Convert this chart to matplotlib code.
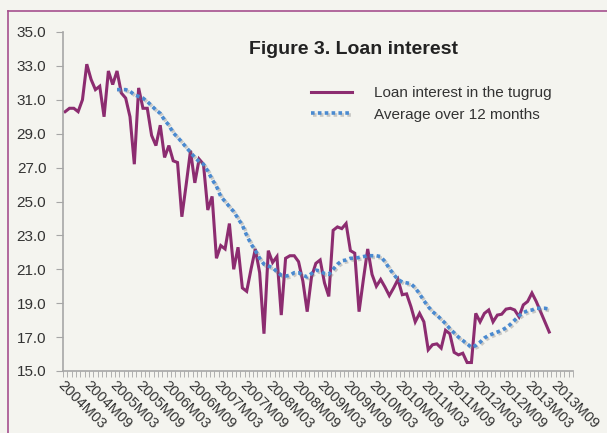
import numpy as np
import matplotlib.pyplot as plt
import matplotlib.patheffects as pe
import matplotlib.transforms as mtransforms

# monthly loan rate in tugrug, from 2004M03
loan_rate = [30.3, 30.5, 30.5, 30.3, 31.0, 33.1, 32.2, 31.6, 31.8, 30.0,
             32.7, 31.9, 32.7, 31.4, 31.1, 30.0, 27.2, 31.7, 30.5, 30.5,
             28.9, 28.3, 29.5, 27.6, 28.3, 27.4, 27.3, 24.1, 26.0, 28.0,
             26.1, 27.5, 27.2, 24.5, 25.3, 21.65, 22.4, 22.2, 23.7, 21.0,
             22.3, 19.9, 19.7, 21.0, 22.2, 20.8, 17.2, 22.1, 21.4, 21.75,
             18.3, 21.65, 21.8, 21.8, 21.45, 20.3, 18.5, 20.55, 21.35, 21.55,
             20.2, 19.4, 23.3, 23.5, 23.4, 23.7, 22.1, 21.95, 18.5, 20.4,
             22.2, 20.7, 20.0, 20.4, 19.95, 19.45, 19.9, 20.4, 19.5, 19.55,
             18.8, 17.9, 18.4, 17.9, 16.25, 16.55, 16.6, 16.35, 17.4, 17.2,
             16.1, 15.95, 16.05, 15.5, 15.5, 18.4, 17.9, 18.4, 18.6, 17.9,
             18.3, 18.35, 18.65, 18.7, 18.6, 18.2, 18.9, 19.1, 19.6, 19.1,
             18.5, 17.9, 17.3]

# 12 month average, starts at month index 12 (2005M03)
avg_start = 12
avg_12m = [31.6, 31.6, 31.6, 31.5, 31.3, 31.2, 31.1, 30.9, 30.65, 30.4,
           30.2, 29.8, 29.5, 29.05, 28.8, 28.5, 28.2, 27.9, 27.6, 27.35,
           27.2, 26.8, 26.3, 25.9, 25.3, 25.0, 24.7, 24.4, 24.0, 23.6,
           23.0, 22.5, 22.1, 21.65, 21.3, 21.2, 21.1, 20.85, 20.65, 20.6,
           20.65, 20.8, 20.8, 20.65, 20.55, 20.75, 20.95, 20.9, 20.75, 20.7,
           21.0, 21.3, 21.5, 21.55, 21.65, 21.65, 21.7, 21.75, 21.8, 21.8,
           21.8, 21.75, 21.45, 21.05, 20.7, 20.4, 20.25, 20.2, 20.15, 19.9,
           19.55, 19.15, 18.8, 18.5, 18.3, 18.05, 17.8, 17.5, 17.25, 17.0,
           16.8, 16.6, 16.4, 16.5, 16.7, 16.95, 17.1, 17.2, 17.3, 17.4,
           17.55, 17.75, 18.0, 18.25, 18.45, 18.55, 18.6, 18.7, 18.7, 18.7,
           18.65]

tick_labels = ['2004M03', '2004M09', '2005M03', '2005M09', '2006M03', '2006M09',
               '2007M03', '2007M09', '2008M03', '2008M09', '2009M03', '2009M09',
               '2010M03', '2010M09', '2011M03', '2011M09', '2012M03', '2012M09',
               '2013M03', '2013M09']
n_months = 118

bg = '#f4f4ef'
purple = '#8c2c70'
blue = '#4a8ad0'
grey = '#a6a6a6'
txt = '#333333'

plt.rcParams['font.family'] = ['Liberation Sans', 'DejaVu Sans']

fig = plt.figure(figsize=(6.07, 4.33), dpi=100, facecolor=bg)
W, H = 607, 433
ax = fig.add_axes([63 / W, 1 - 371 / H, 510 / W, 339 / H], facecolor=bg)

# outer frame (top and left visible)
fig.add_artist(plt.Line2D([8 / W, 1], [1 - 11 / H] * 2, color='#a5508e', lw=1.2))
fig.add_artist(plt.Line2D([8 / W] * 2, [0, 1 - 11 / H], color='#a5508e', lw=1.2))

x_rate = np.arange(len(loan_rate))
x_avg = np.arange(avg_start, avg_start + len(avg_12m))

ax.plot(x_rate, loan_rate, color=purple, lw=2.2, solid_joinstyle='miter',
        label='Loan interest in the tugrug')
ax.plot(x_avg, avg_12m, color=blue, lw=2.6, dashes=(1.0, 0.9),
        label='Average over 12 months',
        path_effects=[pe.SimpleLineShadow(offset=(1.2, -1.2), shadow_color='#777777', alpha=0.35),
                      pe.Normal()])

ax.set_xlim(-0.5, n_months - 0.5)
ax.set_ylim(15, 35)
yt = np.arange(15, 35.1, 2)
ax.set_yticks(yt)
ax.set_yticklabels([f'{v:.1f}' for v in yt], fontsize=11, color=txt)
ax.tick_params(axis='y', length=5, color=grey, pad=7)

ax.set_xticks(np.arange(0, n_months, 6))
ax.set_xticklabels(tick_labels, rotation=-45, ha='left', va='top',
                   rotation_mode='anchor', fontsize=10.5, color=txt)
shift = mtransforms.ScaledTranslation(4 / 100, 0, fig.dpi_scale_trans)
for lab in ax.get_xticklabels():
    lab.set_transform(lab.get_transform() + shift)
ax.set_xticks(np.arange(-0.5, n_months, 1), minor=True)
ax.tick_params(axis='x', which='major', length=0, pad=5)
ax.tick_params(axis='x', which='minor', length=4, color=grey, direction='out')

for s in ['top', 'right']:
    ax.spines[s].set_visible(False)
for s in ['left', 'bottom']:
    ax.spines[s].set_color(grey)
    ax.spines[s].set_linewidth(1.2)

fig.text(353 / W, 1 - 49 / H, 'Figure 3. Loan interest', ha='center', va='center',
         fontsize=14, fontweight='bold', color='#222222')

leg = ax.legend(loc='upper left', bbox_to_anchor=(311 / W, 1 - 86 / H),
                bbox_transform=fig.transFigure, frameon=False, fontsize=11,
                handlelength=2.7, handletextpad=1.45, labelspacing=0.5,
                borderpad=0, borderaxespad=0)
for t in leg.get_texts():
    t.set_color(txt)

fig.savefig('out.png', dpi=100, facecolor=bg)
